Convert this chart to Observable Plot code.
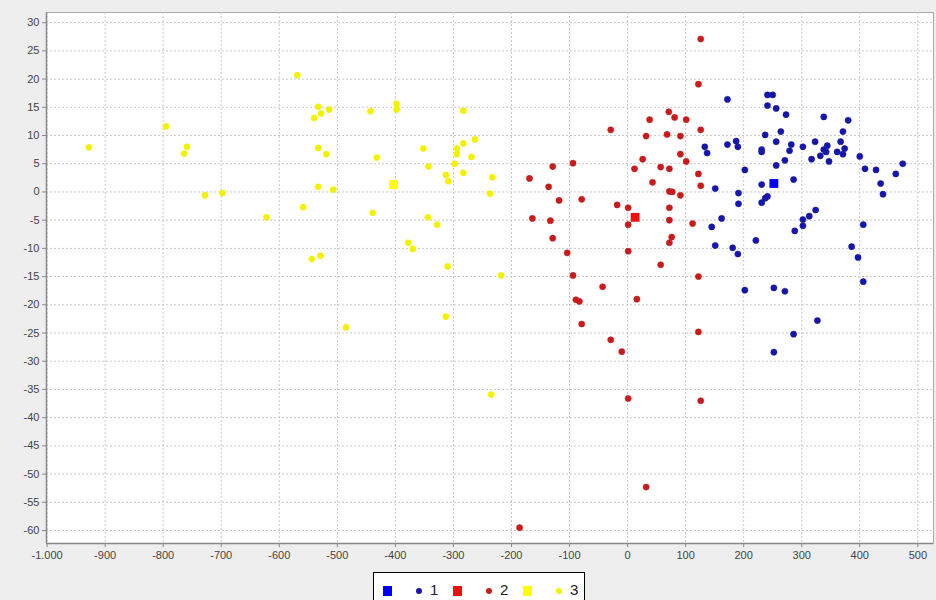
<!DOCTYPE html>
<html>
<head>
<meta charset="utf-8">
<script src="https://cdn.jsdelivr.net/npm/d3@7"></script>
<script src="https://cdn.jsdelivr.net/npm/@observablehq/plot@0.6"></script>
<style>
  html, body { margin: 0; padding: 0; background: #eeeeee; width: 936px; height: 600px; overflow: hidden; }
  #wrap { position: relative; width: 936px; height: 600px; font-family: "Liberation Sans", Arial, sans-serif; }
  #legend {
    position: absolute; left: 373px; top: 572px; width: 212px; height: 34px;
    background: #fff; border: 1px solid #000; box-sizing: border-box;
    font-size: 15px; color: #222;
  }
  #legend span { position: absolute; }
</style>
</head>
<body>
<div id="wrap"><div id="chart"></div><div id="legend"></div></div>
<script>
// Cluster members as [x, y] pairs
const cluster1 = [
  [172,16.4],[241,17.2],[250,17.2],[241,15.3],[256,14.8],[273,13.7],[338,13.3],[380,12.7],
  [371,10.7],[264,10.7],[237,10.1],[187,9.0],[190,8.0],[172,8.4],[133,8.0],[137,6.9],
  [256,8.9],[282,8.4],[231,7.5],[231,7.1],[279,7.3],[302,8.0],[323,8.9],[344,8.2],
  [338,7.5],[342,7.1],[367,8.9],[374,7.7],[361,7.1],[371,6.7],[332,6.4],[317,5.8],
  [347,5.4],[271,5.6],[256,4.7],[400,6.3],[409,4.1],[428,3.9],[474,5.0],[462,3.2],
  [436,1.5],[440,-0.4],[202,3.9],[286,2.2],[231,1.3],[241,-0.8],[237,-1.1],[231,-1.9],
  [151,0.6],[191,-0.2],[191,-2.1],[324,-3.2],[313,-4.3],[302,-4.9],[302,-6.0],[288,-6.9],
  [162,-4.7],[145,-6.2],[406,-5.8],[221,-8.6],[151,-9.5],[181,-9.9],[190,-11.0],[386,-9.7],
  [397,-11.6],[406,-15.9],[202,-17.4],[252,-17.0],[271,-17.6],[327,-22.8],[286,-25.2],[252,-28.4]
];
const cluster2 = [
  [126,27.1],[122,19.1],[-29,11.0],[71,14.2],[81,13.2],[38,12.8],[101,12.8],[126,11.0],
  [32,9.9],[68,10.2],[91,9.9],[91,6.7],[101,5.4],[26,5.8],[12,4.1],[57,4.4],
  [72,4.1],[122,3.2],[126,1.1],[43,1.7],[72,0.1],[77,0.0],[91,-0.6],[72,-2.8],
  [72,-5.0],[112,-5.6],[76,-8.0],[72,-9.0],[57,-12.9],[122,-15.0],[1,-2.8],[1,-5.8],
  [-18,-2.3],[1,-10.5],[-94,5.1],[-129,4.5],[-169,2.4],[-136,0.9],[-118,-1.5],[-79,-1.3],
  [-164,-4.7],[-133,-5.1],[-129,-8.2],[-104,-10.8],[-94,-14.8],[-43,-16.8],[-89,-19.1],[-83,-19.4],
  [16,-19.0],[-79,-23.4],[-29,-26.2],[-10,-28.3],[122,-24.8],[1,-36.6],[126,-37.0],[32,-52.3],
  [-186,-59.5]
];
const cluster3 = [
  [-928,7.9],[-795,11.6],[-759,8.0],[-764,6.8],[-728,-0.6],[-698,-0.2],[-622,-4.5],[-569,20.7],
  [-533,15.1],[-528,13.9],[-514,14.6],[-540,13.1],[-533,7.8],[-519,6.7],[-533,0.9],[-507,0.4],
  [-559,-2.7],[-544,-11.9],[-529,-11.3],[-443,14.3],[-398,15.6],[-398,14.6],[-283,14.4],[-352,7.7],
  [-432,6.1],[-263,9.3],[-283,8.6],[-294,7.7],[-294,6.7],[-269,6.2],[-343,4.5],[-298,5.0],
  [-283,3.4],[-313,3.0],[-309,1.9],[-233,2.6],[-237,-0.3],[-439,-3.7],[-344,-4.5],[-328,-5.8],
  [-378,-9.0],[-370,-10.1],[-310,-13.2],[-218,-14.8],[-313,-22.1],[-485,-24.0],[-235,-35.9]
];
// Cluster centres
const centroids = [[252,1.5],[13,-4.5],[-403,1.3]];

const seriesNames = ["1", "2", "3"];
const dotColors = ["#1616a8", "#c81c1c", "#f2f200"];
const squareColors = ["#0000ff", "#ee1111", "#ffff00"];
const xTicks = d3.range(-1000, 501, 100);
const yTicks = d3.range(-60, 31, 5);

const clusters = [cluster1, cluster2, cluster3];
const points = clusters.flatMap((c, i) => c.map(([x, y]) => ({x, y, s: i})));
const centres = centroids.map(([x, y], i) => ({x, y, s: i}));

const fmt = d3.formatLocale({decimal: ",", thousands: ".", grouping: [3], currency: ["", ""], minus: "-"}).format(",");
const xDomain = [-1001, 527];
const yDomain = [-62.3, 31.8];

const chart = Plot.plot({
  width: 936,
  height: 565,
  marginLeft: 46,
  marginRight: 3,
  marginTop: 12,
  marginBottom: 22,
  style: {background: "#eeeeee", fontFamily: "'Liberation Sans', Arial, sans-serif", fontSize: "11px"},
  x: {domain: xDomain, label: null},
  y: {domain: yDomain, label: null},
  marks: [
    Plot.frame({fill: "white", stroke: "#aaaaaa"}),
    Plot.gridX(xTicks, {stroke: "#c8c8c8", strokeOpacity: 1, strokeDasharray: "2,2"}),
    Plot.gridY(yTicks, {stroke: "#c8c8c8", strokeOpacity: 1, strokeDasharray: "2,2"}),
    Plot.ruleX([xDomain[0]], {stroke: "#888888", strokeWidth: 1.5}),
    Plot.ruleY([yDomain[0]], {stroke: "#888888", strokeWidth: 1.5}),
    Plot.axisX(xTicks, {tickFormat: fmt, tickSize: 4, tickPadding: 4, color: "#444", stroke: "#888", label: null}),
    Plot.axisY(yTicks, {tickFormat: fmt, tickSize: 4, tickPadding: 3, color: "#444", stroke: "#888", label: null}),
    Plot.dot(points, {x: "x", y: "y", r: 3.1, fill: d => dotColors[d.s], stroke: d => dotColors[d.s], strokeWidth: 0.5}),
    Plot.dot(centres, {x: "x", y: "y", symbol: "square", r: 5, fill: d => squareColors[d.s]})
  ]
});
document.getElementById("chart").appendChild(chart);

// Legend: a square and a dot for each cluster, followed by its name
const legend = document.getElementById("legend");
const slot = 70;
seriesNames.forEach((name, i) => {
  const x0 = 9 + i * slot;
  const sq = document.createElement("span");
  Object.assign(sq.style, {left: x0 + "px", top: "13px", width: "9px", height: "10px", background: squareColors[i]});
  legend.appendChild(sq);
  const dot = document.createElement("span");
  Object.assign(dot.style, {left: (x0 + 33) + "px", top: "15px", width: "6px", height: "6px", borderRadius: "50%", background: dotColors[i]});
  legend.appendChild(dot);
  const lab = document.createElement("span");
  lab.textContent = name;
  Object.assign(lab.style, {left: (x0 + 47) + "px", top: "8px"});
  legend.appendChild(lab);
});
</script>
</body>
</html>
